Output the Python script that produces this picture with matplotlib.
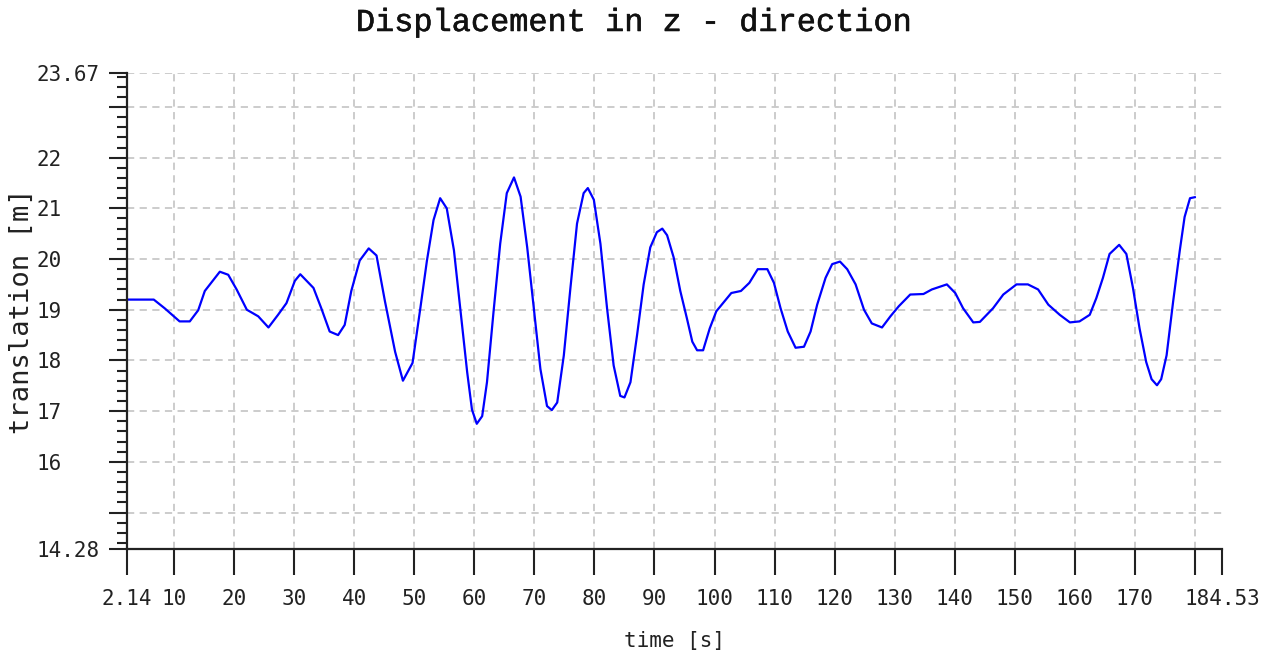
import matplotlib.pyplot as plt
import matplotlib.patheffects as pe
from matplotlib.ticker import MultipleLocator

# z-Verschiebung ueber die Zeit
time_s = [
    2.14, 6.6, 8.4, 10.9, 12.6, 14.0, 15.1, 17.6, 19.0, 20.4,
    22.1, 24.0, 25.7, 27.3, 28.7, 30.1, 31.0, 33.2, 34.5, 35.9,
    37.3, 38.4, 39.5, 40.9, 42.4, 43.7, 45.1, 46.8, 48.1, 49.7,
    51.0, 52.1, 53.2, 54.3, 55.4, 56.6, 57.7, 58.8, 59.6, 60.4,
    61.3, 62.1, 63.2, 64.3, 65.4, 66.6, 67.7, 68.8, 69.9, 71.0,
    72.1, 72.9, 73.8, 74.9, 76.0, 77.1, 78.2, 78.9, 79.9, 81.0,
    82.1, 83.2, 84.3, 85.0, 86.0, 87.1, 88.2, 89.3, 90.4, 91.3,
    92.1, 93.2, 94.3, 95.4, 96.3, 97.1, 98.1, 99.2, 100.3, 101.7,
    102.8, 104.4, 105.8, 107.2, 108.8, 109.9, 111.0, 112.2, 113.5, 114.9,
    116.0, 117.1, 118.5, 119.6, 120.9, 122.1, 123.5, 124.9, 126.2, 127.9,
    129.3, 130.7, 132.6, 134.8, 136.2, 138.7, 140.1, 141.4, 143.1, 144.2,
    146.4, 148.1, 150.3, 152.2, 153.9, 155.6, 157.5, 159.2, 160.8, 162.5,
    163.6, 164.7, 165.8, 167.4, 168.6, 169.7, 170.8, 171.9, 172.8, 173.7,
    174.4, 175.3, 176.4, 177.5, 178.3, 179.2, 180.0
]
z_m = [
    19.20, 19.20, 19.03, 18.77, 18.77, 18.99, 19.37, 19.75, 19.69, 19.40,
    19.00, 18.87, 18.65, 18.90, 19.13, 19.57, 19.70, 19.43, 19.03, 18.57,
    18.50, 18.70, 19.37, 19.97, 20.21, 20.07, 19.17, 18.17, 17.60, 17.95,
    19.03, 19.97, 20.77, 21.20, 21.00, 20.17, 18.97, 17.77, 17.03, 16.75,
    16.90, 17.57, 18.97, 20.30, 21.30, 21.61, 21.23, 20.23, 19.03, 17.83,
    17.10, 17.02, 17.17, 18.10, 19.43, 20.70, 21.30, 21.40, 21.17, 20.30,
    19.03, 17.90, 17.30, 17.27, 17.57, 18.50, 19.50, 20.23, 20.53, 20.60,
    20.47, 20.03, 19.37, 18.83, 18.37, 18.20, 18.20, 18.63, 18.97, 19.17,
    19.33, 19.37, 19.53, 19.80, 19.80, 19.53, 19.03, 18.57, 18.25, 18.27,
    18.57, 19.10, 19.63, 19.90, 19.95, 19.80, 19.50, 19.00, 18.73, 18.65,
    18.87, 19.07, 19.30, 19.31, 19.40, 19.50, 19.33, 19.03, 18.75, 18.76,
    19.03, 19.30, 19.50, 19.50, 19.40, 19.10, 18.90, 18.75, 18.77, 18.90,
    19.23, 19.63, 20.10, 20.28, 20.10, 19.43, 18.63, 17.97, 17.63, 17.51,
    17.63, 18.10, 19.17, 20.17, 20.83, 21.20, 21.22
]

x_min, x_max = 2.14, 184.53
y_min, y_max = 14.28, 23.67

x_ticks = [x_min] + list(range(10, 190, 10)) + [x_max]
x_labels = ["2.14"] + [str(v) for v in range(10, 180, 10)] + ["", "184.53"]
y_ticks = [y_min] + list(range(15, 24)) + [y_max]
y_labels = ["14.28", "", "16", "17", "18", "19", "20", "21", "22", "", "23.67"]

mono = "DejaVu Sans Mono"
ink = "#222222"

fig = plt.figure(figsize=(12.79, 6.57), dpi=100)
ax = fig.add_axes([127 / 1279, 1 - 549 / 657, 1095 / 1279, 476 / 657])

ax.plot(time_s, z_m, color="#0000ff", linewidth=1.6)

ax.set_xlim(x_min, x_max)
ax.set_ylim(y_min, y_max)

ax.set_xticks(x_ticks)
ax.set_xticklabels(x_labels, fontfamily=mono, fontsize=15, color=ink)
ax.set_yticks(y_ticks)
ax.set_yticklabels(y_labels, fontfamily=mono, fontsize=15, color=ink, ha="left")
ax.yaxis.set_minor_locator(MultipleLocator(0.2))

ax.tick_params(axis="x", which="major", direction="out", length=19, width=1.5, pad=10, colors=ink)
ax.tick_params(axis="y", which="major", direction="out", length=13, width=1.5, pad=52, colors=ink)
ax.tick_params(axis="y", which="minor", direction="out", length=7, width=1.5, colors=ink)

for s in ["top", "right"]:
    ax.spines[s].set_visible(False)
for s in ["left", "bottom"]:
    ax.spines[s].set_linewidth(1.6)
    ax.spines[s].set_color(ink)

ax.grid(True, which="major", color="#c8c8c8", linestyle=(0, (4, 3)), linewidth=1.3)
# keine Gitterlinien an den Achsenenden
ax.xaxis.get_major_ticks()[0].gridline.set_visible(False)
ax.xaxis.get_major_ticks()[-1].gridline.set_visible(False)
ax.yaxis.get_major_ticks()[0].gridline.set_visible(False)
ax.set_axisbelow(True)

ax.set_xlabel("time [s]", fontfamily=mono, fontsize=15, color=ink)
ax.xaxis.set_label_coords(0.5, -0.172)
ax.set_ylabel("translation [m]", fontfamily=mono, fontsize=19.5, color=ink)
ax.yaxis.set_label_coords(-0.084, 0.5)

fig.text(635 / 1279, 1 - 23 / 657, "Displacement in z - direction",
         fontfamily="Liberation Mono", fontsize=23,
         ha="center", va="center", color="#111111",
         path_effects=[pe.withStroke(linewidth=0.4, foreground="#111111")])

fig.savefig("out.png", dpi=100, facecolor="white")
